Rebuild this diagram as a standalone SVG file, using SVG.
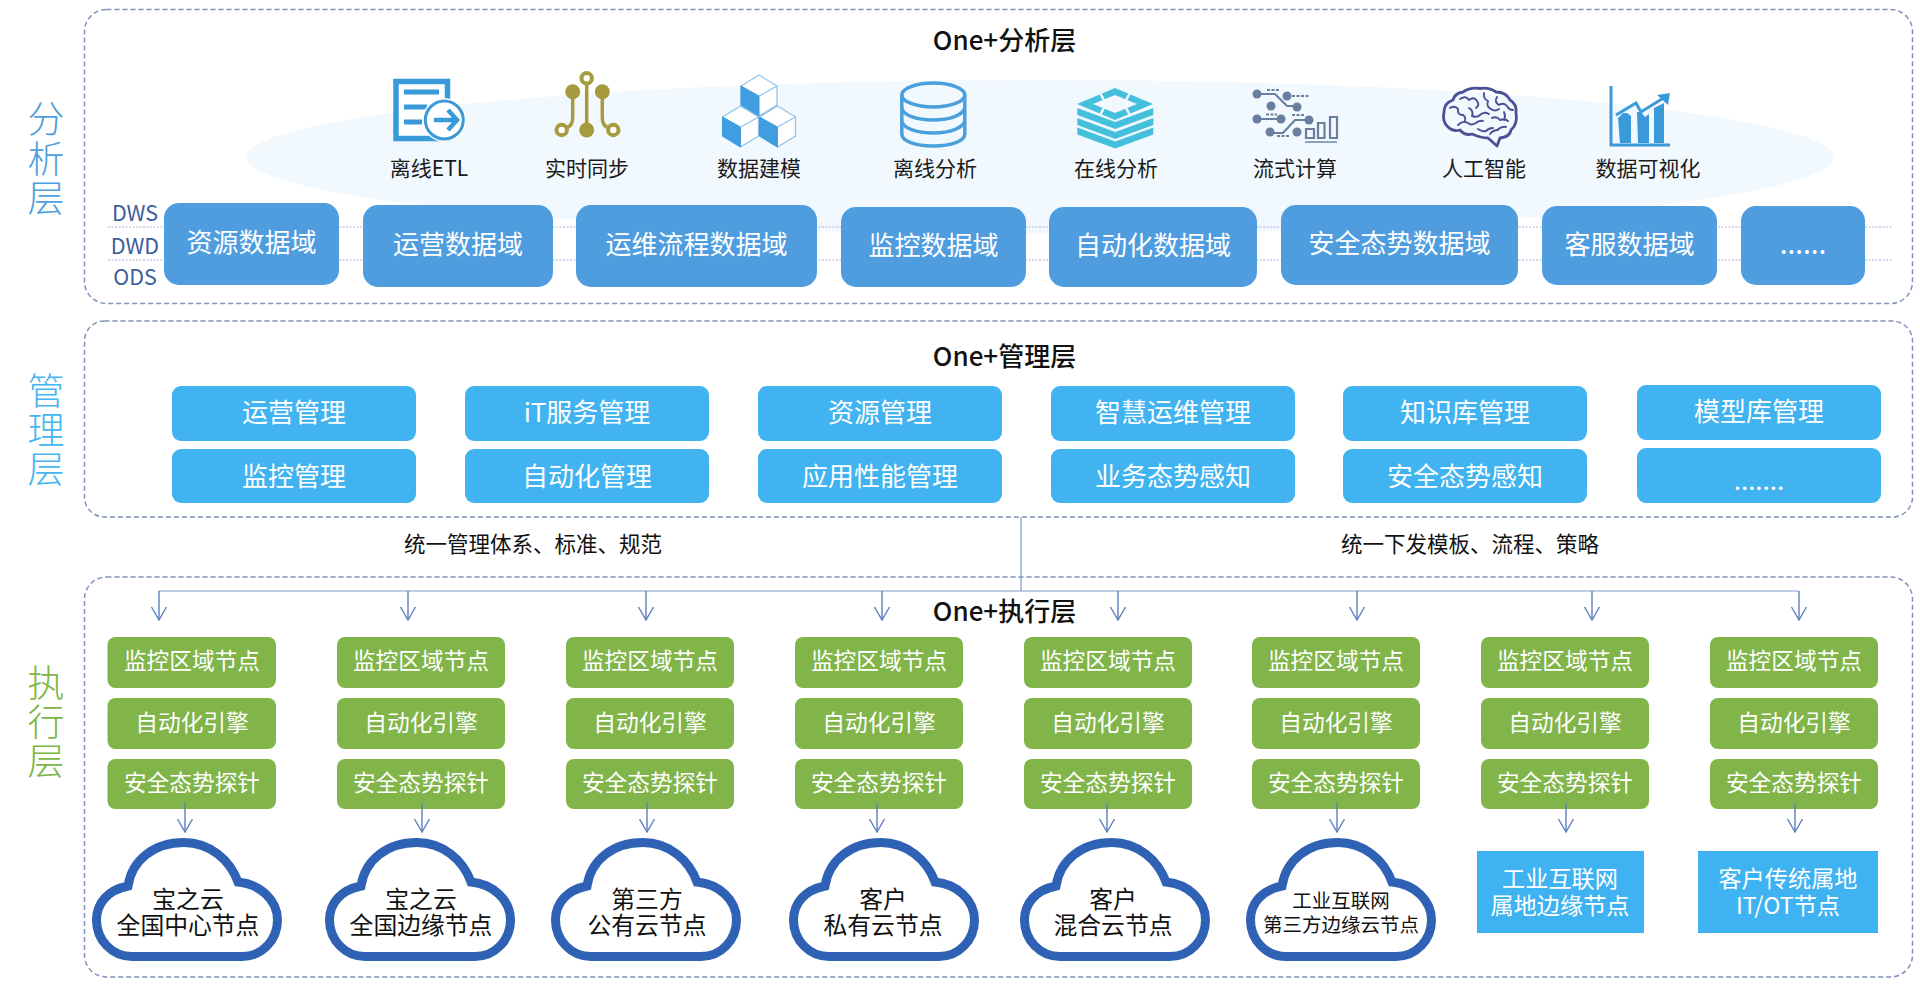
<svg xmlns="http://www.w3.org/2000/svg" xmlns:xlink="http://www.w3.org/1999/xlink" width="1920" height="984" viewBox="0 0 1920 984">
<style>
text{font-family:"Noto Sans CJK SC","Noto Sans",sans-serif;text-anchor:middle;dominant-baseline:central;transform:translateY(-2px)}
.panel{fill:none;stroke:#8492bb;stroke-width:1.5;stroke-dasharray:5 3}
.title{font-size:26px;font-weight:500;fill:#111}
.side{font-size:37px;font-weight:300}
.lay{font-size:21.500px;fill:#3d5c9c}
.ico{font-size:21px;fill:#1a1a1a}
.dom rect{fill:#4f9ddf}
.dom text{font-size:26px;fill:#fff}
.mg rect{fill:#41b3f1}
.mg text{font-size:26px;fill:#fff}
.gr rect{fill:#81b54a}
.gr text{font-size:22.700px;fill:#fff}
.cl text{font-size:23.800px;fill:#111}
.bx rect{fill:#3fb3f2}
.bx text{font-size:23.200px;fill:#fff}
.note{font-size:21.500px;fill:#111}
.dash{fill:none;stroke:#a9b4d6;stroke-width:1.2;stroke-dasharray:2 1.5}
.con{fill:none;stroke:#5d7fbd;stroke-width:1.4}
.trunk{fill:none;stroke:#7f9ac9;stroke-width:1.200}
.arr{marker-end:url(#open)}
.fl{fill:#3a9ad9}
.olive{fill:none;stroke:#a79b3f;stroke-width:3.5}
.st{fill:#6a7f9f}
.stl{fill:none;stroke:#6a7f9f;stroke-width:2.2}
.std{fill:none;stroke:#6a7f9f;stroke-width:2;stroke-dasharray:3 1.5}
.br{fill:none;stroke:#4a5096;stroke-width:1.9;stroke-linecap:round;stroke-linejoin:round}
</style>
<defs>
<marker id="open" viewBox="-14 -9 15 18" markerWidth="15" markerHeight="18" refX="0" refY="0" orient="auto" markerUnits="userSpaceOnUse"><path d="M-13,-7.5 L0,0 L-13,7.5" fill="none" stroke="#5d7fbd" stroke-width="1.4"/></marker>
<path id="cloud" d="M40,118.500 C20,118.500 4.500,102 4.500,82 C4.500,65 16,52 36,48 C40,22 62,4.500 92,4.500 C118,4.500 138,22 146,44 C168,46 185.500,62 185.500,82 C185.500,102 170,118.500 150,118.500 Z" fill="#fff" stroke="#2f62b5" stroke-width="9"/>
<g id="cube"><path d="M0,0 L18,11 L18,30 L0,41 L-18,30 L-18,11 Z" fill="#fff" stroke="#8cc3ec" stroke-width="1.2"/><path d="M-18,11 L0,21 L0,41 L-18,30 Z" fill="#3f9de0" stroke="#3f9de0"/><path d="M0,21 L18,11" stroke="#8cc3ec" fill="none" stroke-width="1.2"/></g>
<path id="band" d="M0,0 L38,14 L76,0 L76,7 L38,21 L0,7 Z" fill="#45c0dc"/>
</defs>
<rect width="1920" height="984" fill="#fff"/>
<ellipse id="halo" cx="1040" cy="157" rx="793" ry="77" fill="#f1f8fe"/>

<g id="layer-analysis">
<rect class="panel" x="84.500" y="9.500" width="1828" height="294" rx="22"/>
<text class="side" fill="#4f9fdc"><tspan x="46" y="119">分</tspan><tspan x="46" y="159">析</tspan><tspan x="46" y="198">层</tspan></text>
<text class="title" x="1004.500" y="40">One+分析层</text>
<path class="dash" d="M108,227 H1893 M108,260 H1893"/>
<text class="lay" x="135" y="213">DWS</text><text class="lay" x="135" y="246">DWD</text><text class="lay" x="135" y="277">ODS</text>
</g>

<g id="icon-etl"><path d="M396,81.500 H447.500 V138.500 H396 Z" fill="#fff" stroke="#3a9ad9" stroke-width="5.500"/><path d="M404,92 H439 M404,107 H427 M404,122 H422" stroke="#3a9ad9" stroke-width="5" fill="none"/><circle cx="444.300" cy="120" r="22" fill="#fff"/><circle cx="444.300" cy="120" r="19" fill="#fff" stroke="#3a9ad9" stroke-width="3"/><path d="M434,120 H455 M448,110 L457,120 L448,130" fill="none" stroke="#3a9ad9" stroke-width="4.500"/><text class="ico" x="429" y="169">离线ETL</text></g>
<g id="icon-sync"><path class="olive" d="M586.700,84 V125 M572.700,92 V118 Q572.700,126 566,128 M602.300,92 V118 Q602.300,126 609,128"/><circle cx="586.700" cy="78.300" r="5.200" fill="#fff" stroke="#a79b3f" stroke-width="4"/><circle cx="586.700" cy="130" r="7.500" fill="#a79b3f"/><circle cx="572.700" cy="91.700" r="7.500" fill="#a79b3f"/><circle cx="602.300" cy="91.700" r="7.500" fill="#a79b3f"/><circle cx="561.700" cy="130" r="5.200" fill="#fff" stroke="#a79b3f" stroke-width="4"/><circle cx="613.300" cy="130" r="5.200" fill="#fff" stroke="#a79b3f" stroke-width="4"/><text class="ico" x="587" y="169">实时同步</text></g>
<g id="icon-model"><use href="#cube" transform="translate(759,75)"/><use href="#cube" transform="translate(740.500,106)"/><use href="#cube" transform="translate(777.500,106)"/><text class="ico" x="759" y="169">数据建模</text></g>
<g id="icon-db"><path d="M901.800,95 V134 C901.800,141 915,146 933.300,146 C951.500,146 964.800,141 964.800,134 V95" fill="none" stroke="#4a9fdc" stroke-width="3.500"/><ellipse cx="933.300" cy="95" rx="31.500" ry="12" fill="none" stroke="#4a9fdc" stroke-width="3.500"/><path d="M901.800,108 C903,115 916,120 933.300,120 C950,120 963,115 964.800,108 M901.800,121 C903,128 916,133 933.300,133 C950,133 963,128 964.800,121" fill="none" stroke="#4a9fdc" stroke-width="3.500"/><text class="ico" x="935" y="169">离线分析</text></g>
<g id="icon-online"><path d="M1115,88 L1153,104 L1115,120 L1077,104 Z" fill="#45c0dc"/><path d="M1115,95 L1137,104 L1115,113 L1093,104 Z" fill="#f1f8fe"/><path d="M1098,89 L1106,104 M1132,89 L1124,104 M1098,119 L1106,104 M1132,119 L1124,104" stroke="#f1f8fe" stroke-width="2.500" fill="none"/><use href="#band" transform="translate(1077.300,108)"/><use href="#band" transform="translate(1077.300,118)"/><use href="#band" transform="translate(1077.300,127.500)"/><text class="ico" x="1116" y="169">在线分析</text></g>
<g id="icon-stream">
<circle class="st" cx="1257" cy="94" r="4.500"/><circle class="st" cx="1287" cy="96" r="4.500"/><circle class="st" cx="1271" cy="106" r="4.500"/><circle class="st" cx="1297" cy="107" r="4.500"/><circle class="st" cx="1257" cy="119" r="4.500"/><circle class="st" cx="1281" cy="119" r="4.500"/><circle class="st" cx="1309" cy="120" r="4.500"/><circle class="st" cx="1270" cy="132" r="4.500"/><circle class="st" cx="1297" cy="132" r="4.500"/>
<path class="stl" d="M1257,94 H1275 L1287,106 H1297 M1257,119 H1281 M1309,120 H1295 L1283,133 H1270"/>
<path class="std" d="M1267,90 H1280 M1292,96 H1309 M1266,114.500 H1277 M1292,115 H1304 M1277,136 H1290"/>
<path class="stl" d="M1306,129 h8 v9 h-8 Z M1318,123 h6.500 v15 h-6.500 Z M1330,117 h7 v21 h-7 Z"/><path d="M1305,142 H1337" stroke="#8fa2bd" stroke-width="2" fill="none"/>
<text class="ico" x="1295" y="169">流式计算</text></g>
<g id="icon-ai">
<path class="br" style="stroke-width:2.800" d="M1488,138 L1497,146 L1500,138 Q1510,137 1511,130 Q1518,124 1516,113 Q1517,104 1510,100 Q1506,92 1496,92 Q1489,87 1480,88.500 Q1470,87 1463,92 Q1455,93 1453,100 Q1444,103 1444,112 Q1442,122 1448,127 Q1453,132 1460,130 Q1465,136 1472,134 Q1481,138 1488,138 Z"/>
<path class="br" d="M1460,99 q6,-4 9,1 q5,-4 8,1 q3,4 -1,7 M1450,108 q5,-3 8,1 q-1,6 5,6 q4,3 1,7 M1469,108 q5,3 3,8 q5,2 8,-1 q4,-4 9,-1 M1484,93 q-1,6 4,8 q-2,6 3,8 q4,3 8,0 M1497,97 q-3,5 2,8 q5,-3 8,1 q2,4 6,4 M1492,118 q5,-2 8,2 q5,-2 8,1 M1504,112 q2,4 0,8 M1458,125 q5,-5 10,-2 q3,3 8,0 q3,-3 7,-2 M1478,129 q4,3 8,2 q3,-3 7,-3 M1497,130 q5,-4 9,-3 M1490,134 q3,-4 8,-4"/>
<text class="ico" x="1484" y="169">人工智能</text></g>
<g id="icon-viz">
<path d="M1611,86 V145 H1670" fill="none" stroke="#3a9ad9" stroke-width="3"/>
<path class="fl" d="M1618,118 L1623,113 H1627 L1631,116 V143 H1620 Z M1637,112 H1641 L1645,117 L1649,114 V143 H1638 Z M1654,108 L1664,103 V143 H1654 Z"/>
<path d="M1616,115 L1636,103 L1641,112 L1665,97" fill="none" stroke="#3a9ad9" stroke-width="3"/><path class="fl" d="M1657,95 L1670,93 L1668,105 Z"/>
<text class="ico" x="1648" y="169">数据可视化</text></g>

<g id="dom-1" class="dom"><rect x="164" y="203" width="175" height="82" rx="15"/><text x="251.500" y="242">资源数据域</text></g>
<g id="dom-2" class="dom"><rect x="363" y="205" width="190" height="82" rx="15"/><text x="458" y="244">运营数据域</text></g>
<g id="dom-3" class="dom"><rect x="576" y="205" width="241" height="82" rx="15"/><text x="696.500" y="244">运维流程数据域</text></g>
<g id="dom-4" class="dom"><rect x="841" y="207" width="185" height="80" rx="15"/><text x="933.500" y="245">监控数据域</text></g>
<g id="dom-5" class="dom"><rect x="1049" y="207" width="208" height="80" rx="15"/><text x="1153" y="245">自动化数据域</text></g>
<g id="dom-6" class="dom"><rect x="1281" y="205" width="237" height="80" rx="15"/><text x="1399.500" y="243">安全态势数据域</text></g>
<g id="dom-7" class="dom"><rect x="1542" y="206" width="175" height="79" rx="15"/><text x="1629.500" y="244">客服数据域</text></g>
<g id="dom-8" class="dom"><rect x="1741" y="206" width="124" height="79" rx="15"/><text x="1803" y="244" style="font-size:28px">......</text></g>

<g id="layer-mgmt">
<rect class="panel" x="84.500" y="321" width="1828" height="196" rx="20"/>
<text class="side" fill="#45b5f0"><tspan x="46" y="391">管</tspan><tspan x="46" y="430">理</tspan><tspan x="46" y="469">层</tspan></text>
<text class="title" x="1004.500" y="356">One+管理层</text>
</g>
<g id="mg-1" class="mg"><rect x="172" y="386" width="244" height="55" rx="9"/><text x="294" y="412">运营管理</text></g>
<g id="mg-2" class="mg"><rect x="465" y="386" width="244" height="55" rx="9"/><text x="587" y="412">iT服务管理</text></g>
<g id="mg-3" class="mg"><rect x="758" y="386" width="244" height="55" rx="9"/><text x="880" y="412">资源管理</text></g>
<g id="mg-4" class="mg"><rect x="1051" y="386" width="244" height="55" rx="9"/><text x="1173" y="412">智慧运维管理</text></g>
<g id="mg-5" class="mg"><rect x="1343" y="386" width="244" height="55" rx="9"/><text x="1465" y="412">知识库管理</text></g>
<g id="mg-6" class="mg"><rect x="1637" y="385" width="244" height="55" rx="9"/><text x="1759" y="411">模型库管理</text></g>
<g id="mg-7" class="mg"><rect x="172" y="449" width="244" height="54" rx="9"/><text x="294" y="476">监控管理</text></g>
<g id="mg-8" class="mg"><rect x="465" y="449" width="244" height="54" rx="9"/><text x="587" y="476">自动化管理</text></g>
<g id="mg-9" class="mg"><rect x="758" y="449" width="244" height="54" rx="9"/><text x="880" y="476">应用性能管理</text></g>
<g id="mg-10" class="mg"><rect x="1051" y="449" width="244" height="54" rx="9"/><text x="1173" y="476">业务态势感知</text></g>
<g id="mg-11" class="mg"><rect x="1343" y="449" width="244" height="54" rx="9"/><text x="1465" y="476">安全态势感知</text></g>
<g id="mg-12" class="mg"><rect x="1637" y="448" width="244" height="55" rx="9"/><text x="1759" y="480">.......</text></g>

<text class="note" x="533" y="544">统一管理体系、标准、规范</text>
<text class="note" x="1470" y="544">统一下发模板、流程、策略</text>

<g id="layer-exec">
<rect class="panel" x="84.500" y="577" width="1828" height="400" rx="22"/>
<text class="side" fill="#7db544"><tspan x="46" y="683">执</tspan><tspan x="46" y="722">行</tspan><tspan x="46" y="761">层</tspan></text>
<text class="title" x="1004.500" y="611">One+执行层</text>
</g>

<g id="exec-1" class="gr"><rect x="107.500" y="637" width="168.500" height="51" rx="8"/><text x="192" y="661">监控区域节点</text><rect x="107.500" y="698" width="168.500" height="51" rx="8"/><text x="192" y="723">自动化引擎</text><rect x="107.500" y="759" width="168.500" height="50" rx="8"/><text x="192" y="783">安全态势探针</text></g>
<g id="exec-2" class="gr"><rect x="337" y="637" width="168" height="51" rx="8"/><text x="421" y="661">监控区域节点</text><rect x="337" y="698" width="168" height="51" rx="8"/><text x="421" y="723">自动化引擎</text><rect x="337" y="759" width="168" height="50" rx="8"/><text x="421" y="783">安全态势探针</text></g>
<g id="exec-3" class="gr"><rect x="566" y="637" width="168" height="51" rx="8"/><text x="650" y="661">监控区域节点</text><rect x="566" y="698" width="168" height="51" rx="8"/><text x="650" y="723">自动化引擎</text><rect x="566" y="759" width="168" height="50" rx="8"/><text x="650" y="783">安全态势探针</text></g>
<g id="exec-4" class="gr"><rect x="795" y="637" width="168" height="51" rx="8"/><text x="879" y="661">监控区域节点</text><rect x="795" y="698" width="168" height="51" rx="8"/><text x="879" y="723">自动化引擎</text><rect x="795" y="759" width="168" height="50" rx="8"/><text x="879" y="783">安全态势探针</text></g>
<g id="exec-5" class="gr"><rect x="1024" y="637" width="168" height="51" rx="8"/><text x="1108" y="661">监控区域节点</text><rect x="1024" y="698" width="168" height="51" rx="8"/><text x="1108" y="723">自动化引擎</text><rect x="1024" y="759" width="168" height="50" rx="8"/><text x="1108" y="783">安全态势探针</text></g>
<g id="exec-6" class="gr"><rect x="1252" y="637" width="168" height="51" rx="8"/><text x="1336" y="661">监控区域节点</text><rect x="1252" y="698" width="168" height="51" rx="8"/><text x="1336" y="723">自动化引擎</text><rect x="1252" y="759" width="168" height="50" rx="8"/><text x="1336" y="783">安全态势探针</text></g>
<g id="exec-7" class="gr"><rect x="1481" y="637" width="168" height="51" rx="8"/><text x="1565" y="661">监控区域节点</text><rect x="1481" y="698" width="168" height="51" rx="8"/><text x="1565" y="723">自动化引擎</text><rect x="1481" y="759" width="168" height="50" rx="8"/><text x="1565" y="783">安全态势探针</text></g>
<g id="exec-8" class="gr"><rect x="1710" y="637" width="168" height="51" rx="8"/><text x="1794" y="661">监控区域节点</text><rect x="1710" y="698" width="168" height="51" rx="8"/><text x="1794" y="723">自动化引擎</text><rect x="1710" y="759" width="168" height="50" rx="8"/><text x="1794" y="783">安全态势探针</text></g>

<g id="cloud-1" class="cl"><use href="#cloud" transform="translate(92,838)"/><text><tspan x="188" y="899">宝之云</tspan><tspan x="188" y="925">全国中心节点</tspan></text></g>
<g id="cloud-2" class="cl"><use href="#cloud" transform="translate(325,838)"/><text><tspan x="421" y="899">宝之云</tspan><tspan x="421" y="925">全国边缘节点</tspan></text></g>
<g id="cloud-3" class="cl"><use href="#cloud" transform="translate(551,838)"/><text><tspan x="647" y="899">第三方</tspan><tspan x="647" y="925">公有云节点</tspan></text></g>
<g id="cloud-4" class="cl"><use href="#cloud" transform="translate(789,838)"/><text><tspan x="883" y="899">客户</tspan><tspan x="883" y="925">私有云节点</tspan></text></g>
<g id="cloud-5" class="cl"><use href="#cloud" transform="translate(1020,838)"/><text><tspan x="1113" y="899">客户</tspan><tspan x="1113" y="925">混合云节点</tspan></text></g>
<g id="cloud-6" class="cl"><use href="#cloud" transform="translate(1246,838)"/><text style="font-size:19.500px"><tspan x="1341" y="901">工业互联网</tspan><tspan x="1341" y="925">第三方边缘云节点</tspan></text></g>
<g id="site-1" class="bx"><rect x="1477" y="851" width="167" height="82"/><text><tspan x="1560" y="879">工业互联网</tspan><tspan x="1560" y="906">属地边缘节点</tspan></text></g>
<g id="site-2" class="bx"><rect x="1698" y="851" width="180" height="82"/><text><tspan x="1788" y="879">客户传统属地</tspan><tspan x="1788" y="906">IT/OT节点</tspan></text></g>

<g id="connectors">
<path class="trunk" d="M1021,517 V591 M159,591 H1799"/>
<path class="con arr" d="M159,591 V620"/><path class="con arr" d="M408,591 V620"/><path class="con arr" d="M646,591 V620"/><path class="con arr" d="M882,591 V620"/><path class="con arr" d="M1118,591 V620"/><path class="con arr" d="M1357,591 V620"/><path class="con arr" d="M1592,591 V620"/><path class="con arr" d="M1799,591 V620"/>
<path class="con arr" d="M185,803 V832"/><path class="con arr" d="M422,803 V832"/><path class="con arr" d="M647,803 V832"/><path class="con arr" d="M877,803 V832"/><path class="con arr" d="M1107,803 V832"/><path class="con arr" d="M1337,803 V832"/><path class="con arr" d="M1566,803 V832"/><path class="con arr" d="M1795,803 V832"/>
</g>
</svg>
